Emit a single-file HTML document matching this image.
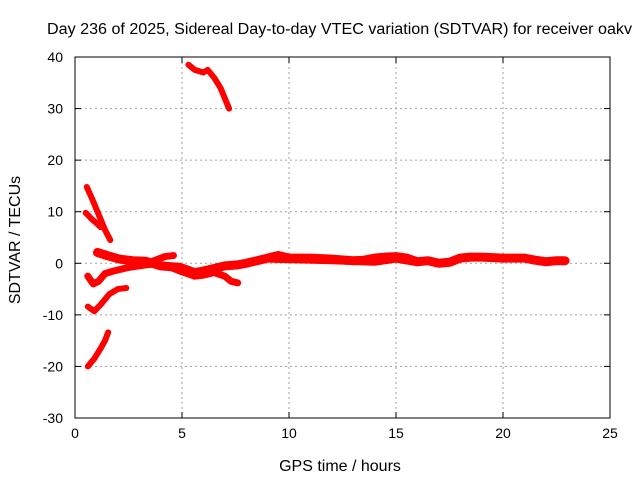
<!DOCTYPE html>
<html><head><meta charset="utf-8"><style>
body{margin:0;background:#fff;}
svg{display:block;font-family:"Liberation Sans",sans-serif;}
</style></head><body>
<svg id="chart" width="640" height="480"></svg>
<script>
const xTicks=[0,5,10,15,20,25];
const yTicks=[-30,-20,-10,0,10,20,30,40];
const segTopX=[5.3,5.6,6.0,6.2,6.5,6.8,7.0,7.2];
const segTopY=[38.5,37.5,37,37.5,36,34,32,30];
const segA_X=[0.55,0.8,1.0,1.2,1.4,1.65];
const segA_Y=[14.8,12.5,10.5,8.5,6.5,4.5];
const segB_X=[0.5,0.8,1.0,1.2];
const segB_Y=[9.8,8.5,7.8,7];
const segBotX=[0.6,0.9,1.2,1.4,1.55];
const segBotY=[-20,-18.5,-16.5,-15,-13.4];
const segC_X=[0.6,0.9,1.2,1.6,2.0,2.4];
const segC_Y=[-8.4,-9.3,-8,-6,-5,-4.8];
const segD_X=[0.6,0.85,1.1,1.4,1.8,2.1,2.8,3.5,4.2,4.6];
const segD_Y=[-2.5,-4,-3.5,-2,-1.5,-1.2,-0.5,0.2,1.3,1.5];
const segMainX=[1.05,1.5,2.1,2.7,3.3,4.0,4.9,5.6,6.0,6.5,7.0,7.6,8.0,8.5,9.0,9.5,10,11,12,13,13.5,14,14.5,15,15.5,16,16.5,17,17.5,18,18.5,19,20,21,21.5,22,22.5,22.9];
const segMainY=[2.1,1.5,0.8,0.5,0.4,-0.5,-0.8,-1.8,-1.5,-1.0,-0.5,-0.3,0,0.5,1.0,1.5,1.0,1.0,0.8,0.5,0.6,1.0,1.2,1.3,1.0,0.3,0.5,0,0.2,1.0,1.2,1.2,1.0,1.0,0.6,0.3,0.5,0.5];
const segE_X=[2.5,3.5,4.3,4.9,5.6,6.0,6.5,7.0,7.3,7.6];
const segE_Y=[-0.8,-0.2,-0.5,-1.5,-2.5,-2.3,-1.8,-2.5,-3.5,-3.8];
const segF_X=[9,12,14,15,16];
const segF_Y=[0.8,0.5,0.2,0.8,0.1];

const L=75,R=610,T=57,B=418,xMin=0,xMax=25,yMin=-30,yMax=40;
const X=v=>L+(v-xMin)/(xMax-xMin)*(R-L);
const Y=v=>B-(v-yMin)/(yMax-yMin)*(B-T);
const svg=document.getElementById('chart');
const NS='http://www.w3.org/2000/svg';
function mk(t,a){const e=document.createElementNS(NS,t);for(const k in a)e.setAttribute(k,a[k]);svg.appendChild(e);return e;}

xTicks.forEach(v=>{
  if(v>xMin&&v<xMax){const g=mk('line',{x1:X(v),x2:X(v),y1:T,y2:B,stroke:'#a0a0a0','stroke-dasharray':'2,3'});
  
  }
  mk('line',{x1:X(v),x2:X(v),y1:B,y2:B-6,stroke:'#000'});
  mk('line',{x1:X(v),x2:X(v),y1:T,y2:T+6,stroke:'#000'});
  const t=mk('text',{x:X(v),y:B+20,'text-anchor':'middle','font-size':14});
  t.textContent=v;
  
  
});
yTicks.forEach(v=>{
  if(v>yMin&&v<yMax){const g=mk('line',{x1:L,x2:R,y1:Y(v),y2:Y(v),stroke:'#a0a0a0','stroke-dasharray':'2,3'});
  
  }
  mk('line',{x1:L,x2:L+6,y1:Y(v),y2:Y(v),stroke:'#000'});
  mk('line',{x1:R,x2:R-6,y1:Y(v),y2:Y(v),stroke:'#000'});
  const t=mk('text',{x:L-12,y:Y(v)+5,'text-anchor':'end','font-size':14});
  t.textContent=v;
  
  
});
const box=mk('rect',{x:L,y:T,width:R-L,height:B-T,fill:'none',stroke:'#000'});



const segs=[[segTopX,segTopY,6],[segA_X,segA_Y,6],[segB_X,segB_Y,6],[segBotX,segBotY,6],[segC_X,segC_Y,6],[segD_X,segD_Y,7],[segMainX,segMainY,9],[segE_X,segE_Y,7],[segF_X,segF_Y,7]];
segs.forEach(([xs,ys,w])=>{
  const p=mk('polyline',{points:xs.map((x,i)=>X(x)+','+Y(ys[i])).join(' '),fill:'none',stroke:'#ff0000','stroke-width':w,'stroke-linejoin':'round','stroke-linecap':'round'});
  
  
});

const title=mk('text',{x:47,y:34,'font-size':15.5,textLength:585,lengthAdjust:'spacingAndGlyphs'});
title.textContent='Day 236 of 2025, Sidereal Day-to-day VTEC variation (SDTVAR) for receiver oakv';


const xt=mk('text',{x:340,y:471,'text-anchor':'middle','font-size':16});
xt.textContent='GPS time / hours';


const yt=mk('text',{x:20,y:240,'text-anchor':'middle','font-size':16,transform:'rotate(-90 20 240)'});
yt.textContent='SDTVAR / TECUs';


</script>
</body></html>
